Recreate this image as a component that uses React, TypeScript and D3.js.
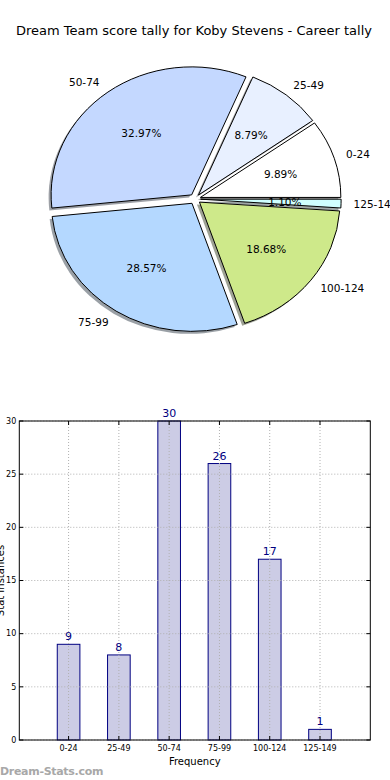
import React from "react";
import * as d3 from "d3";

const categories = ["0-24", "25-49", "50-74", "75-99", "100-124", "125-149"];
const counts = [9, 8, 30, 26, 17, 1];
const pieColors = ["#ffffff", "#e8f0ff", "#c4d8ff", "#b4d8ff", "#cee98a", "#d0ffff"];
const yTicks = [0, 5, 10, 15, 20, 25, 30];

const W = 390;
const H = 780;
const FONT = "DejaVu Sans, Verdana, sans-serif";

export default function App() {
  const cx = 195;
  const cy = 199;
  const rx = 140.5;
  const ry = 128;
  const explode = 0.04;
  const total = d3.sum(counts);

  const pie = d3
    .pie<number>()
    .sort(null)
    .startAngle(Math.PI / 2)
    .endAngle(Math.PI / 2 - 2 * Math.PI);
  const arcs = pie(counts);
  const arcGen = d3.arc<d3.PieArcDatum<number>>().innerRadius(0).outerRadius(1);

  const slices = arcs.map((a, i) => {
    const mid = (a.startAngle + a.endAngle) / 2;
    const dx = Math.sin(mid);
    const dy = -Math.cos(mid);
    const ox = cx + explode * rx * dx;
    const oy = cy + explode * ry * dy;
    const col = d3.rgb(pieColors[i]);
    const shadow = d3.rgb(col.r * 0.3, col.g * 0.3, col.b * 0.3).toString();
    return {
      d: arcGen(a) as string,
      ox,
      oy,
      dx,
      dy,
      shadow,
      color: pieColors[i],
      label: categories[i],
      pct: ((100 * counts[i]) / total).toFixed(2) + "%",
    };
  });

  const left = 19.3;
  const right = 370.3;
  const top = 421;
  const bottom = 740;
  const x = d3.scaleLinear().domain([-0.98, 6.0]).range([left, right]);
  const y = d3.scaleLinear().domain([0, 30]).range([bottom, top]);
  const barW = x(0.45) - x(0);
  const idx = d3.range(categories.length);

  return (
    <svg
      width={W}
      height={H}
      style={{ position: "absolute", left: 0, top: 0, background: "#fff" }}
      fontFamily={FONT}
    >
      <rect x={0} y={0} width={W} height={H} fill="#fff" />
      <text x={194} y={34.5} textAnchor="middle" fontSize={13} fill="#000">
        Dream Team score tally for Koby Stevens - Career tally
      </text>

      {slices.map((s, i) => (
        <path
          key={"sh" + i}
          d={s.d}
          transform={`translate(${s.ox - 2.5},${s.oy + 2.5}) scale(${rx},${ry})`}
          fill={s.shadow}
          fillOpacity={0.5}
          stroke="none"
        />
      ))}
      {slices.map((s, i) => (
        <path
          key={"w" + i}
          d={s.d}
          transform={`translate(${s.ox},${s.oy}) scale(${rx},${ry})`}
          fill={s.color}
          stroke="#000"
          strokeWidth={1}
          vectorEffect="non-scaling-stroke"
          strokeLinejoin="round"
        />
      ))}
      {slices.map((s, i) => (
        <text
          key={"l" + i}
          x={s.ox + 1.1 * rx * s.dx - (s.dx >= 0 ? 1.5 : 0)}
          y={s.oy + 1.1 * ry * s.dy}
          dy="0.35em"
          textAnchor={s.dx >= 0 ? "start" : "end"}
          fontSize={10.5}
          fill="#000"
        >
          {s.label}
        </text>
      ))}
      {slices.map((s, i) => (
        <text
          key={"p" + i}
          x={s.ox + 0.6 * rx * s.dx}
          y={s.oy + 0.6 * ry * s.dy}
          dy="0.35em"
          textAnchor="middle"
          fontSize={10.5}
          fill="#000"
        >
          {s.pct}
        </text>
      ))}

      {idx.map((i) => (
        <rect
          key={"b" + i}
          x={x(i) - barW / 2}
          y={y(counts[i])}
          width={barW}
          height={y(0) - y(counts[i])}
          fill="#cccce5"
          stroke="#000080"
          strokeWidth={1}
        />
      ))}
      {idx.map((i) => (
        <line
          key={"gx" + i}
          x1={x(i)}
          x2={x(i)}
          y1={top}
          y2={bottom}
          stroke="#b0b0b0"
          strokeWidth={1}
          strokeDasharray="1,2"
        />
      ))}
      {yTicks.map((t) => (
        <line
          key={"gy" + t}
          x1={left}
          x2={right}
          y1={y(t)}
          y2={y(t)}
          stroke="#b0b0b0"
          strokeWidth={1}
          strokeDasharray="1,2"
        />
      ))}
      <rect x={left} y={top} width={right - left} height={bottom - top} fill="none" stroke="#000" strokeWidth={1} />
      {yTicks.map((t) => (
        <g key={"ty" + t}>
          <line x1={left} x2={left + 4} y1={y(t)} y2={y(t)} stroke="#000" />
          <line x1={right - 4} x2={right} y1={y(t)} y2={y(t)} stroke="#000" />
          <text x={left - 3} y={y(t)} dy="0.35em" textAnchor="end" fontSize={8} fill="#000">
            {t}
          </text>
        </g>
      ))}
      {idx.map((i) => (
        <g key={"tx" + i}>
          <line x1={x(i)} x2={x(i)} y1={bottom} y2={bottom - 4} stroke="#000" />
          <line x1={x(i)} x2={x(i)} y1={top} y2={top + 4} stroke="#000" />
          <text x={x(i)} y={bottom + 8} dy="0.35em" textAnchor="middle" fontSize={8} fill="#000">
            {categories[i]}
          </text>
        </g>
      ))}
      {idx.map((i) => (
        <text
          key={"v" + i}
          x={x(i)}
          y={y(counts[i]) - 4}
          textAnchor="middle"
          fontSize={11}
          fill="#000080"
        >
          {counts[i]}
        </text>
      ))}
      <text x={(left + right) / 2} y={765} textAnchor="middle" fontSize={10} fill="#000">
        Frequency
      </text>
      <text
        transform={`translate(4,${(top + bottom) / 2}) rotate(-90)`}
        textAnchor="middle"
        fontSize={10}
        fill="#000"
      >
        Stat Instances
      </text>
      <text x={0} y={775} fontSize={11} fontWeight="bold" fill="#a8a8a8" letterSpacing={-0.3}>
        Dream-Stats.com
      </text>
    </svg>
  );
}
